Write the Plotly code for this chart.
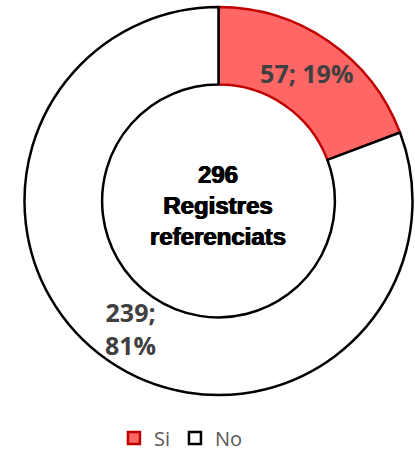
import math
import plotly.graph_objects as go

labels = ["Si", "No"]
values = [57, 239]
fill_colors = ["#FF6666", "#FFFFFF"]
line_colors = ["#C00000", "#000000"]
center_caption = "Registres<br>referenciats"

W, H = 415, 456
HOLE = 0.6
DOM_X = [24 / W, 413 / W]
DOM_Y = [1 - 395 / H, 1 - 7 / H]

total = sum(values)
texts = [f"{v}; {round(v / total * 100)}%" for v in values]

label_font = dict(family="Open Sans", size=25, color="#404040", weight="bold")

fig = go.Figure(
    go.Pie(
        labels=labels,
        values=values,
        text=[texts[0], ""],
        textinfo="text",
        textposition=["inside", "none"],
        insidetextorientation="horizontal",
        hole=HOLE,
        sort=False,
        direction="clockwise",
        rotation=0,
        marker=dict(colors=fill_colors, line=dict(color=line_colors, width=2.5)),
        textfont=label_font,
        domain=dict(x=DOM_X, y=DOM_Y),
    )
)

# label of the large slice at its mid-angle (plotly would move it to the bottom)
cx_px = (DOM_X[0] + DOM_X[1]) / 2 * W
cy_px = (DOM_Y[0] + DOM_Y[1]) / 2 * H
R_px = min((DOM_X[1] - DOM_X[0]) * W, (DOM_Y[1] - DOM_Y[0]) * H) / 2
r_mid = R_px * (1 + HOLE) / 2
frac_mid = (values[0] + values[1] / 2) / total
theta = 2 * math.pi * frac_mid
fig.add_annotation(
    x=(cx_px + r_mid * math.sin(theta)) / W,
    y=(cy_px + r_mid * math.cos(theta)) / H,
    xref="paper", yref="paper", xanchor="center", yanchor="middle",
    text=texts[1].replace("; ", ";<br>"),
    showarrow=False,
    font=label_font,
)

fig.add_annotation(
    x=cx_px / W, y=1 - 205 / H, xref="paper", yref="paper",
    xanchor="center", yanchor="middle",
    text=f"<b>{total}<br>{center_caption}</b>",
    showarrow=False,
    font=dict(family="Liberation Sans, Arial", size=24, color="#000000",
              shadow="0.6px 0 0 #000, -0.6px 0 0 #000"),
)

fig.update_layout(
    width=W, height=H,
    margin=dict(l=0, r=0, t=0, b=0, autoexpand=False),
    paper_bgcolor="white",
    plot_bgcolor="white",
    uniformtext=dict(minsize=25, mode="show"),
    showlegend=True,
    legend=dict(
        orientation="h", x=0.436, xanchor="center", y=1 - 438 / H, yanchor="middle",
        font=dict(family="Open Sans", size=20, color="#595959"),
        itemwidth=30,
    ),
)

fig.write_html("out.html", config={"displayModeBar": False},
               post_script="document.body.style.margin='0';")
